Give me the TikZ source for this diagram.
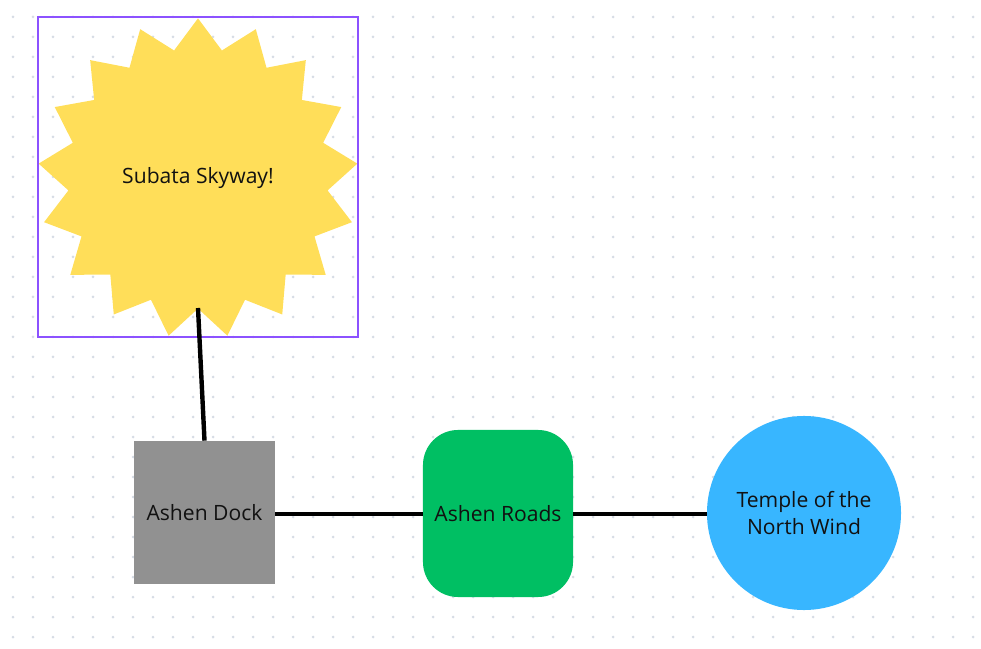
\documentclass[tikz,border=0pt]{standalone}
\usepackage{fontspec}
\setmainfont{Open Sans}
\usetikzlibrary{positioning, shapes.geometric}
\definecolor{cpurple}{HTML}{8C52FF}
\definecolor{cyellow}{HTML}{FFDE59}
\definecolor{cgrey}{HTML}{919191}
\definecolor{cgreen}{HTML}{00BF63}
\definecolor{cblue}{HTML}{38B6FF}
\definecolor{cdot}{HTML}{D6DCE5}
\definecolor{cink}{HTML}{111111}
\tikzset{
  every picture/.style={font=\fontsize{15}{19.2}\selectfont},
  place/.style={fill=#1, draw=none, align=center, text=cink, inner sep=0pt},
  skystar/.style={place=cyellow, star, star points=17, star point ratio=1.23, minimum size=8cm},
  frame/.style={draw=cpurple, line width=0.05cm, minimum size=8cm, inner sep=0pt},
  road/.style={draw=black, line width=0.11cm},
}

\begin{document}
\begin{tikzpicture}[x=0.025cm, y=-0.025cm]
  \useasboundingbox (0,0) rectangle (981,649);
  % dotted canvas
  \foreach \i in {0,...,48} {
    \foreach \j in {0,...,31} {
      \fill[cdot] (13+20*\i, 17+20*\j) circle (1.5);
    }
  }
  % places
  \node[skystar] (sky) at (198,178.4) {Subata Skyway!};
  \node[frame] (skyframe) at (198,177) {};
  \node[place=cgrey, minimum width=3.525cm, minimum height=3.575cm] (dock) at (204.5,512.5) {Ashen Dock};
  \node[place=cgreen, rounded corners=0.875cm, minimum width=3.75cm, minimum height=4.175cm] (roads) at (498,513.5) {Ashen Roads};
  \node[place=cblue, circle, minimum size=4.85cm] (temple) at (804,513) {Temple of the\\North Wind};
  % connectors
  \coordinate (skyfoot) at (198,308);
  \draw[road] (skyfoot) -- (dock.north);
  \draw[road] (dock.east |- 0,514) -- (roads.west |- 0,514);
  \draw[road] (roads.east |- 0,514) -- (temple.west |- 0,514);
\end{tikzpicture}
\end{document}
